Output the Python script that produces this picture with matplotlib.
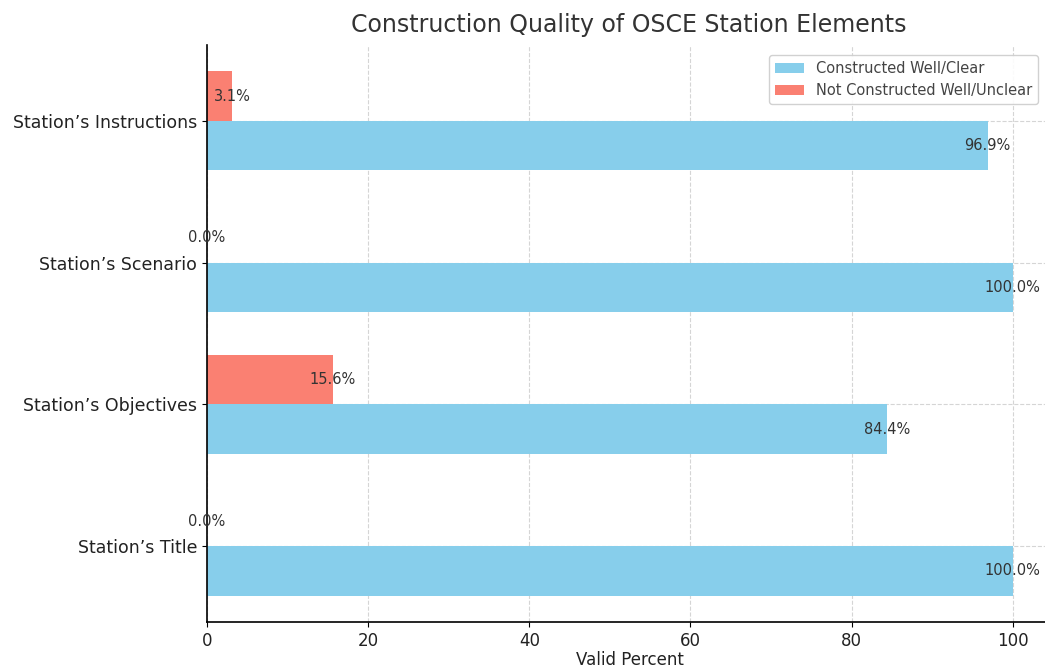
import matplotlib
matplotlib.use("Agg")
import matplotlib.pyplot as plt
import numpy as np

categories = ["Station\u2019s Title", "Station\u2019s Objectives", "Station\u2019s Scenario", "Station\u2019s Instructions"]
well_clear = [100.0, 84.4, 100.0, 96.9]
not_well = [0.0, 15.6, 0.0, 3.1]

y = np.arange(len(categories))
h = 0.35

fig = plt.figure(figsize=(10.45, 6.7), dpi=100)
ax = fig.add_axes([207 / 1045, 48 / 670, 846 / 1045, 577 / 670])

b1 = ax.barh(y - h / 2, well_clear, h, color="#87CEEB", label="Constructed Well/Clear", zorder=2)
b2 = ax.barh(y + h / 2, not_well, h, color="#FA8072", label="Not Constructed Well/Unclear", zorder=2)

# value labels centred on the bar end
for bars, vals in ((b1, well_clear), (b2, not_well)):
    for bar, v in zip(bars, vals):
        ax.text(v, bar.get_y() + bar.get_height() / 2, f"{v:.1f}%",
                ha="center", va="center", fontsize=10.5, color="#333333", zorder=3)

ax.set_yticks(y)
ax.set_yticklabels(categories, fontsize=12.5, color="#222222")
ax.set_xticks([0, 20, 40, 60, 80, 100])
ax.tick_params(axis="x", labelsize=12, labelcolor="#222222")
ax.set_xlim(0, 105)
ax.set_ylim(-0.535, 3.535)
ax.set_xlabel("Valid Percent", fontsize=12, labelpad=1, color="#222222")
ax.grid(True, linestyle="--", color="#d5d5d5", linewidth=0.8, zorder=0)
ax.spines["top"].set_visible(False)
ax.spines["right"].set_visible(False)
ax.spines["left"].set_linewidth(1.2)
ax.spines["bottom"].set_linewidth(1.2)

fig.text(629 / 1045, 1 - 25 / 670, "Construction Quality of OSCE Station Elements",
         ha="center", va="center", fontsize=17, color="#333333")
leg = fig.legend(loc="upper right", bbox_to_anchor=(1045 / 1045, 1 - 48 / 670), fontsize=10.5,
                 framealpha=0.9, edgecolor="#cccccc")
for t in leg.get_texts():
    t.set_color("#444444")

fig.savefig("out.png", dpi=100)
plt.close(fig)
